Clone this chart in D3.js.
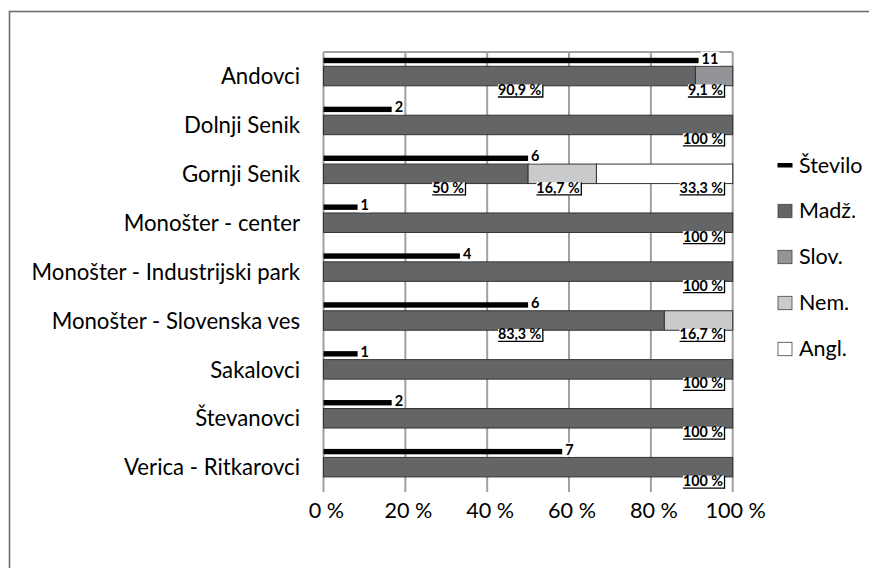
<!DOCTYPE html>
<html><head><meta charset="utf-8">
<script src="https://cdn.jsdelivr.net/npm/d3@7"></script>
<style>
html,body{margin:0;padding:0;background:#fff;}
svg{display:block;}
text{font-family:Lato,"Open Sans",sans-serif;}
</style></head>
<body>
<script>
const categories = ["Andovci","Dolnji Senik","Gornji Senik","Monošter - center","Monošter - Industrijski park","Monošter - Slovenska ves","Sakalovci","Števanovci","Verica - Ritkarovci"];
const stevilo = [11,2,6,1,4,6,1,2,7];
const madz = [90.9,100,50,100,100,83.3,100,100,100];
const slov = [9.1,0,0,0,0,0,0,0,0];
const nem  = [0,0,16.7,0,0,16.7,0,0,0];
const angl = [0,0,33.3,0,0,0,0,0,0];
const seriesNames = ["Madž.","Slov.","Nem.","Angl."];
const seriesColors = ["#646567","#939498","#c9cacc","#ffffff"];
const xTicks = [0,20,40,60,80,100];
const tickLabels = ["0 %","20 %","40 %","60 %","80 %","100 %"];
// percentage labels: [row, text, right end in axis units]
const pctLabels = [
  [0,"90,9 %",53.6],[0,"9,1 %",98],
  [1,"100 %",98],
  [2,"50 %",34.7],[2,"16,7 %",63],[2,"33,3 %",98],
  [3,"100 %",98],[4,"100 %",98],
  [5,"83,3 %",53.6],[5,"16,7 %",98],
  [6,"100 %",98],[7,"100 %",98],[8,"100 %",98]
];

const W=869,H=568;
const svg=d3.select("body").append("svg").attr("width",W).attr("height",H);

// outer frame
svg.append("rect").attr("x",9.5).attr("y",11.5).attr("width",W+20).attr("height",H+20)
  .attr("fill","none").attr("stroke","#6e6e6e").attr("stroke-width",1.6);

const x=d3.scaleLinear().domain([0,100]).range([323.5,732.7]);
const xc=d3.scaleLinear().domain([0,12]).range([323.5,732.7]);
const y=d3.scaleBand().domain(categories).range([52,492]);

const g=svg.append("g");
// gridlines
g.selectAll("line.grid").data(xTicks).join("line").attr("class","grid")
  .attr("x1",d=>x(d)).attr("x2",d=>x(d)).attr("y1",52).attr("y2",492)
  .attr("stroke","#a0a0a0").attr("stroke-width",2);
// top border
g.append("line").attr("x1",x(0)).attr("x2",x(100)).attr("y1",52).attr("y2",52)
  .attr("stroke","#a0a0a0").attr("stroke-width",2);

// stacked bars
const stackData = categories.map((c,i)=>({cat:c,"Madž.":madz[i],"Slov.":slov[i],"Nem.":nem[i],"Angl.":angl[i]}));
const stacked=d3.stack().keys(seriesNames)(stackData);
stacked.forEach((s,si)=>{
  g.selectAll(null).data(s.filter(d=>d[1]-d[0]>0)).join("rect")
    .attr("x",d=>x(d[0])).attr("width",d=>x(d[1])-x(d[0]))
    .attr("y",d=>y(d.data.cat)+14.3).attr("height",19.5)
    .attr("fill",seriesColors[si]).attr("stroke","#333").attr("stroke-width",1);
});

// Število lines
g.selectAll("rect.st").data(stevilo).join("rect").attr("class","st")
  .attr("x",x(0)).attr("width",d=>xc(d)-xc(0))
  .attr("y",(d,i)=>y(categories[i])+5.8).attr("height",5.4).attr("fill","#000");
// number labels
stevilo.forEach((v,i)=>{
  const t=g.append("text").attr("x",xc(v)+3).attr("y",y(categories[i])+11.6)
    .attr("font-size",14.5).attr("font-weight","bold").text(v);
  const bb=t.node().getBBox();
  g.insert("rect","text:last-of-type").attr("x",bb.x-1).attr("y",bb.y+2).attr("width",bb.width+2).attr("height",bb.height-3).attr("fill","#fff");
  t.raise();
});

// pct labels
pctLabels.forEach(([r,txt,pos])=>{
  const bx=x(pos), by=y(categories[r])+43;
  const t=g.append("text").attr("x",bx-1.5).attr("y",by).attr("text-anchor","end")
    .attr("font-size",14.3).attr("font-weight","bold").text(txt);
  const bb=t.node().getBBox();
  g.insert("rect","text:last-of-type").attr("x",bb.x).attr("y",by-10.5).attr("width",bb.width+1.5).attr("height",13).attr("fill","#fff");
  t.raise();
  g.append("line").attr("x1",bb.x).attr("x2",bx).attr("y1",by+2).attr("y2",by+2).attr("stroke","#000").attr("stroke-width",1.3);
  g.append("line").attr("x1",bx).attr("x2",bx).attr("y1",by-10.5).attr("y2",by+2.6).attr("stroke","#000").attr("stroke-width",1.3);
});

// category labels
svg.selectAll("text.cat").data(categories).join("text").attr("class","cat")
  .attr("x",300).attr("y",d=>y(d)+y.bandwidth()/2+7.8).attr("text-anchor","end")
  .attr("font-size",22.2).attr("fill","#000").text(d=>d);

// x axis tick labels
svg.selectAll("text.tick").data(xTicks).join("text").attr("class","tick")
  .attr("x",d=>x(d)+3).attr("y",518.3).attr("text-anchor","middle")
  .attr("font-size",21.6).text((d,i)=>tickLabels[i]);

// legend
const legend=svg.append("g");
const legY=[165,211,257,303,349];
legend.append("rect").attr("x",777.5).attr("y",legY[0]-2).attr("width",15).attr("height",4.5).attr("fill","#000");
legend.append("text").attr("x",799).attr("y",legY[0]+7.5).attr("font-size",21.5).text("Število");
seriesNames.forEach((n,i)=>{
  legend.append("rect").attr("x",778).attr("y",legY[i+1]-6.7).attr("width",14).attr("height",13.4)
    .attr("fill",seriesColors[i]).attr("stroke","#444").attr("stroke-width",0.8);
  legend.append("text").attr("x",799).attr("y",legY[i+1]+7).attr("font-size",21.5).text(n);
});
</script>
</body></html>
